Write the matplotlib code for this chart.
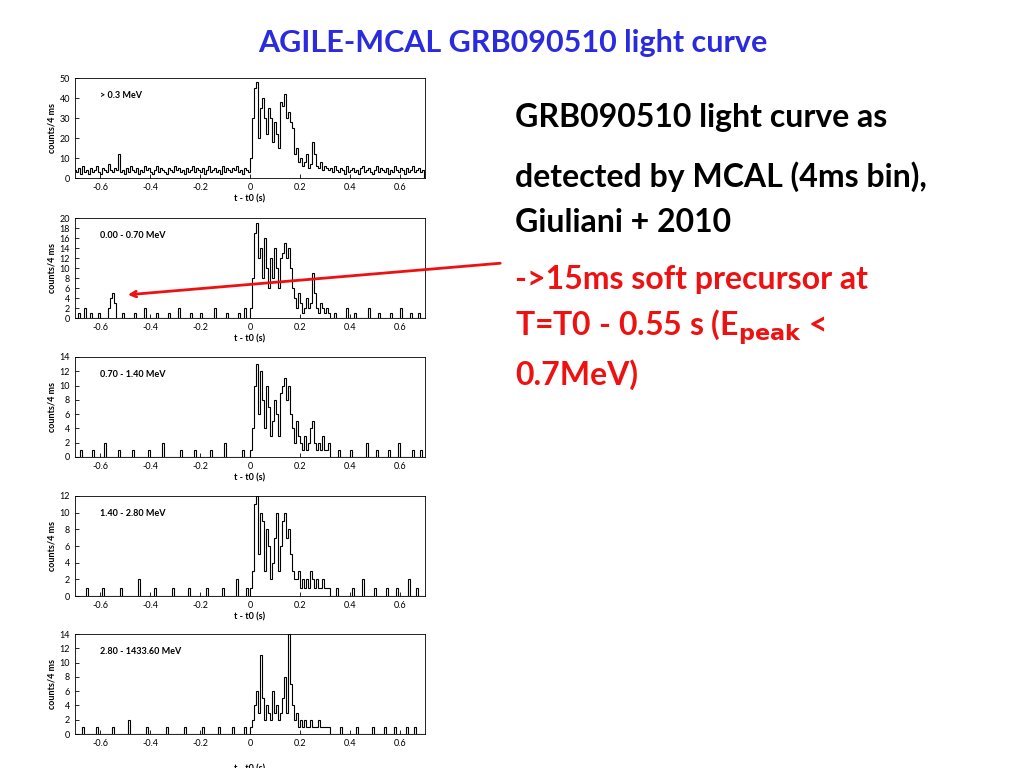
import numpy as np
import matplotlib.pyplot as plt

# 8 ms bins from -0.704 to 0.696 s (175 bins); burst region starts at bin 88 (t=0)
t_edges = np.round(np.arange(-0.704, 0.6961, 0.008), 3)

labels = ["> 0.3 MeV", "0.00 - 0.70 MeV", "0.70 - 1.40 MeV", "1.40 - 2.80 MeV", "2.80 - 1433.60 MeV"]
ymax = [50, 20, 14, 12, 14]
ystep = [10, 2, 2, 2, 2]

# panel 1 background (dense), pre-burst 88 bins and post-burst 47 bins
pre1 = [4, 3, 5, 2, 6, 3, 4, 2, 5, 3, 4, 6, 3, 2, 5, 4, 3, 7, 4, 3, 5, 4, 12, 3, 4, 2, 5, 3,
        6, 4, 3, 5, 2, 4, 3, 6, 4, 5, 3, 2, 4, 6, 3, 5, 4, 3, 2, 5, 4, 3, 6, 4, 5, 3, 4, 2,
        5, 3, 4, 6, 3, 5, 4, 3, 5, 2, 4, 6, 3, 4, 5, 3, 4, 2, 6, 3, 5, 4, 3, 5, 4, 6, 3, 4,
        2, 5, 4, 3]
burst1 = [10, 30, 45, 48, 20, 35, 40, 30, 22, 35, 30, 18, 28, 22, 15, 38, 36, 42, 30, 33,
          28, 25, 12, 15, 8, 10, 6, 8, 12, 5, 7, 18, 12, 6, 5, 8, 4, 6, 5, 4]
post1 = [5, 3, 6, 4, 3, 5, 4, 2, 6, 3, 4, 5, 3, 4, 2, 5, 6, 3, 4, 5, 3, 2, 4, 6, 3, 5, 4,
         3, 5, 2, 4, 3, 6, 4, 3, 5, 4, 2, 5, 3, 4, 6, 3, 4, 5, 3, 4]

# panels 2-5: sparse background {bin index: counts} and burst (40 bins)
bg2 = {2: 1, 5: 2, 8: 1, 12: 1, 17: 2, 18: 4, 19: 5, 20: 3, 24: 1, 30: 1, 35: 2, 41: 1, 47: 1,
       52: 2, 58: 1, 63: 1, 70: 2, 76: 1, 82: 1, 85: 2, 130: 1, 136: 2, 140: 1, 147: 2,
       152: 1, 158: 1, 163: 2, 168: 1, 172: 1}
burst2 = [2, 8, 17, 19, 12, 14, 8, 16, 10, 6, 12, 8, 14, 10, 6, 12, 13, 15, 12, 14,
          10, 6, 4, 2, 5, 3, 1, 2, 4, 2, 3, 9, 5, 2, 1, 3, 2, 1, 2, 1]
bg3 = {3: 1, 9: 1, 15: 2, 22: 1, 29: 1, 37: 1, 44: 2, 53: 1, 60: 1, 68: 1, 75: 2, 84: 1,
       132: 1, 138: 1, 146: 2, 151: 1, 157: 1, 162: 2, 169: 1, 173: 1}
burst3 = [1, 4, 10, 13, 6, 12, 8, 4, 10, 7, 3, 5, 8, 6, 3, 9, 10, 11, 8, 10,
          6, 4, 2, 5, 3, 2, 1, 3, 1, 2, 4, 5, 2, 1, 2, 1, 3, 1, 1, 2]
bg4 = {6: 1, 14: 1, 23: 1, 32: 2, 40: 1, 49: 1, 57: 1, 66: 1, 74: 1, 81: 2, 86: 1,
       131: 1, 139: 1, 144: 2, 150: 1, 156: 1, 161: 1, 167: 2, 171: 1}
burst4 = [1, 3, 11, 12, 5, 10, 9, 3, 8, 6, 2, 4, 7, 10, 3, 6, 9, 10, 7, 8,
          5, 3, 2, 2, 3, 1, 2, 1, 2, 1, 3, 2, 1, 2, 1, 1, 2, 1, 1, 1]
bg5 = {4: 1, 11: 1, 19: 1, 27: 2, 36: 1, 46: 1, 55: 1, 64: 1, 72: 1, 79: 1, 85: 1,
       133: 1, 141: 1, 149: 1, 155: 1, 160: 1, 166: 1, 170: 1}
burst5 = [1, 2, 4, 6, 3, 11, 5, 2, 4, 3, 2, 6, 3, 4, 2, 3, 5, 8, 3, 14,
          7, 4, 2, 3, 1, 2, 1, 2, 1, 1, 2, 1, 1, 1, 2, 1, 1, 1, 1, 1]


def build(pre, burst, post):
    return np.array(pre + burst + post, dtype=float)


def build_sparse(bg, burst):
    c = np.zeros(175)
    for k, v in bg.items():
        c[k] = v
    c[88:128] = burst
    return c


counts = [build(pre1, burst1, post1),
          build_sparse(bg2, burst2), build_sparse(bg3, burst3),
          build_sparse(bg4, burst4), build_sparse(bg5, burst5)]

plt.rcParams['font.family'] = ['Lato', 'DejaVu Sans']
fig = plt.figure(figsize=(10.24, 7.68), dpi=100)

tops = [78, 218, 357, 496, 634]
for i in range(5):
    ax = fig.add_axes([75 / 1024, 1 - (tops[i] + 100) / 768, 350 / 1024, 100 / 768])
    ax.stairs(counts[i], t_edges, color='black', lw=0.8)
    ax.set_xlim(-0.7, 0.7)
    ax.set_ylim(0, ymax[i])
    ax.set_xticks([-0.6, -0.4, -0.2, 0, 0.2, 0.4, 0.6])
    ax.set_xticklabels(['-0.6', '-0.4', '-0.2', '0', '0.2', '0.4', '0.6'])
    ax.set_yticks(np.arange(0, ymax[i] + 1, ystep[i]))
    ax.tick_params(labelsize=6.5, direction='in', length=3, width=0.6)
    ax.set_xlabel('t - t0 (s)', fontsize=6.5, labelpad=2 if i < 4 else 12, fontweight='bold')
    ax.set_ylabel('counts/4 ms', fontsize=6.5, labelpad=2, fontweight='bold')
    for s in ax.spines.values():
        s.set_linewidth(0.6)
    ax.text(0.07, 0.8, labels[i], transform=ax.transAxes, fontsize=6.5, fontweight='bold')

fig.text(513 / 1024, 1 - 43 / 768, 'AGILE-MCAL GRB090510 light curve', color='#2a2adf',
         fontsize=22, fontweight='bold', ha='center', va='center')

x0 = 515 / 1024
fs = 23
fig.text(x0, 1 - 118 / 768, 'GRB090510 light curve as', fontsize=fs, va='center', fontweight='bold')
fig.text(x0, 1 - 177 / 768, 'detected by MCAL (4ms bin),', fontsize=fs, va='center', fontweight='bold')
fig.text(x0, 1 - 222 / 768, 'Giuliani + 2010', fontsize=fs, va='center', fontweight='bold')
red = '#ee1111'
fig.text(x0, 1 - 280 / 768, '->15ms soft precursor at', fontsize=fs, va='center', color=red, fontweight='bold')
fig.text(x0, 1 - 327 / 768, r'T=T0 - 0.55 s (E$_{\mathbf{peak}}$ <', fontsize=fs, va='center', color=red, fontweight='bold')
fig.text(x0, 1 - 375 / 768, '0.7MeV)', fontsize=fs, va='center', color=red, fontweight='bold')

fig.add_artist(plt.Annotation('', xy=(125 / 1024, 1 - 295 / 768), xytext=(503 / 1024, 1 - 263 / 768),
                              xycoords='figure fraction', textcoords='figure fraction',
                              arrowprops=dict(arrowstyle='->', color=red, lw=2)))

fig.savefig('out.png', dpi=100)
